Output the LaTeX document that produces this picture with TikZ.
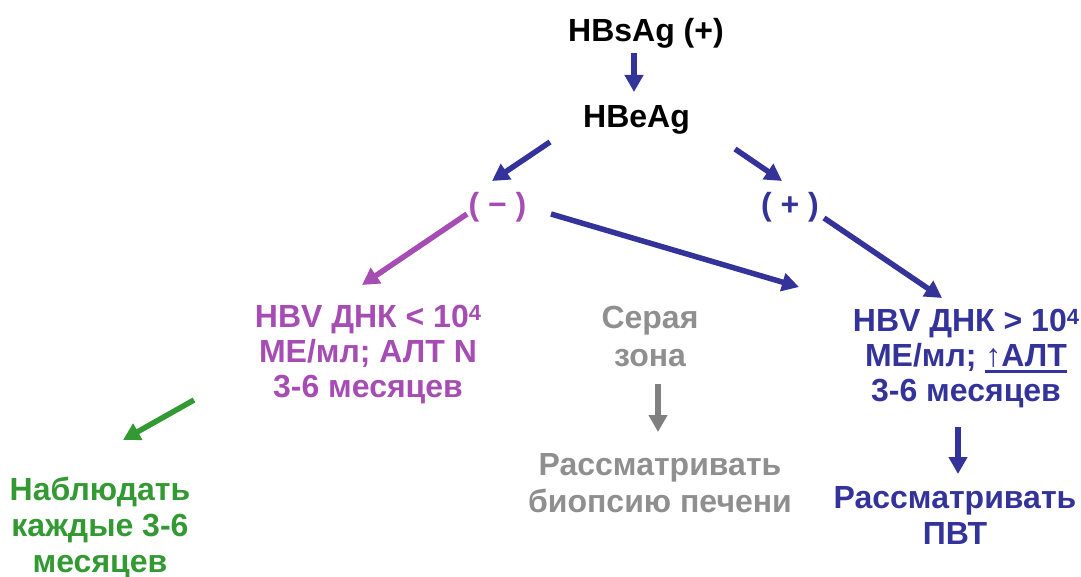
\documentclass[tikz,border=0pt]{standalone}
\usepackage{fontspec}
\setmainfont{Liberation Sans}
\usetikzlibrary{arrows.meta}
\definecolor{dblue}{HTML}{333399}
\definecolor{purp}{HTML}{A64DB4}
\definecolor{grn}{HTML}{339933}
\definecolor{gry}{HTML}{8F8F8F}
\definecolor{gryarr}{HTML}{808080}
\newcommand\fs{\rule{0pt}{30pt}}
\newcommand\supf[1]{\raisebox{7pt}{\fontsize{22}{22}\selectfont #1}}
\newcommand\ulin[1]{\setbox0\hbox{#1}\rlap{\rule[-7pt]{\wd0}{3pt}}\box0}
\begin{document}
\begin{tikzpicture}[x=1pt,y=-1pt,
  lbl/.style={font=\fontsize{32}{36}\selectfont\bfseries, inner sep=0pt, align=center},
  one/.style={lbl, anchor=base},
  blk/.style={lbl, anchor=north},
  arr/.style={line width=5.5pt, -{Triangle[length=17pt,width=18pt]}}]
\useasboundingbox (0,0) rectangle (1081,577);
% labels
\node[one] (hbs) at (646,42) {HBsAg (+)};
\node[one] (hbe) at (636.5,128) {HBeAg};
\node[one, text=purp] (neg) at (497.5,216) {( − )};
\node[one, text=dblue] (pos) at (790,216) {( + )};
\node[blk, text=purp, font=\fontsize{32}{35}\selectfont\bfseries] (low) at (368,297)
  {\fs HBV ДНК < 10\supf{4}\\МЕ/мл; АЛТ N\\3-6 месяцев};
\node[blk, text=dblue, font=\fontsize{32}{35}\selectfont\bfseries] (high) at (966,301)
  {\fs HBV ДНК > 10\supf{4}\\МЕ/мл; \ulin{↑АЛТ}\\3-6 месяцев};
\node[blk, text=gry, font=\fontsize{32}{38}\selectfont\bfseries] (grey) at (650,298)
  {\fs Серая\\зона};
\node[blk, text=gry, font=\fontsize{32}{37}\selectfont\bfseries] (biop) at (660,445)
  {\fs Рассматривать\\биопсию печени};
\node[blk, text=grn] (obs) at (100,470) {\fs Наблюдать\\каждые 3-6\\месяцев};
\node[blk, text=dblue] (pvt) at (955,478) {\fs Рассматривать\\ПВТ};
% connector ends
\coordinate (a1s) at (634,53);  \coordinate (a1e) at (634,92);
\coordinate (a2s) at (550,142); \coordinate (a2e) at (492,181);
\coordinate (a3s) at (735,149); \coordinate (a3e) at (782,181);
\coordinate (a4s) at (467,214); \coordinate (a4e) at (362,285);
\coordinate (a5s) at (551,214); \coordinate (a5e) at (799,287);
\coordinate (a6s) at (824,218); \coordinate (a6e) at (942,298);
\coordinate (a7s) at (194,400); \coordinate (a7e) at (123,440);
\coordinate (a8s) at (658,384); \coordinate (a8e) at (658,432);
\coordinate (a9s) at (958,427); \coordinate (a9e) at (958,474);
% connectors
\draw[arr, dblue] (a1s) -- (a1e);
\draw[arr, dblue] (a2s) -- (a2e);
\draw[arr, dblue] (a3s) -- (a3e);
\draw[arr, purp] (a4s) -- (a4e);
\draw[arr, dblue] (a5s) -- (a5e);
\draw[arr, dblue] (a6s) -- (a6e);
\draw[arr, grn] (a7s) -- (a7e);
\draw[arr, gryarr] (a8s) -- (a8e);
\draw[arr, dblue] (a9s) -- (a9e);
\end{tikzpicture}
\end{document}
